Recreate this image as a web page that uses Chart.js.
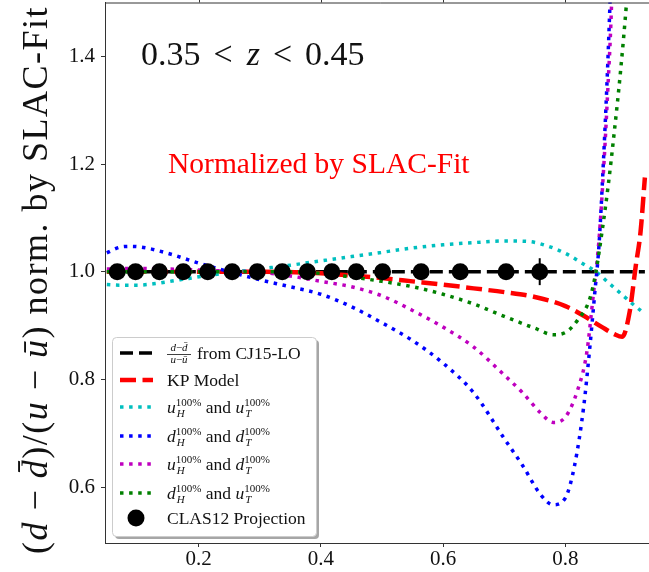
<!DOCTYPE html>
<html>
<head>
<meta charset="utf-8">
<script src="https://cdn.jsdelivr.net/npm/chart.js@4.4.1/dist/chart.umd.min.js"></script>
<style>
  html, body { margin: 0; padding: 0; background: #fff; overflow: hidden; }
  #wrap { width: 649px; height: 572px; overflow: hidden; }
  #ratio-chart { display: block; margin-top: -6px; }
</style>
</head>
<body>
<div id="wrap"><canvas id="ratio-chart" width="665" height="578"></canvas></div>
<script>
var SERIF = "'Liberation Serif', 'Times New Roman', serif";

var X_MIN = 0.047, X_MAX = 0.949;
var Y_MIN = 0.496, Y_MAX = 1.5;
var X_TICKS = [0.2, 0.4, 0.6, 0.8];
var Y_TICKS = [0.6, 0.8, 1.0, 1.2, 1.4];

// (d - dbar)/(u - ubar) from CJ15-LO, normalised to itself
var cj15X = [0.05, 0.93];
var cj15Y = [1.0, 1.0];

// KP model
var kpX = [0.05, 0.20, 0.30, 0.40, 0.45, 0.50, 0.55, 0.60, 0.65, 0.70, 0.75, 0.80, 0.83, 0.86, 0.88, 0.893, 0.905, 0.915, 0.923, 0.93];
var kpY = [1.0, 1.0, 1.0, 0.997, 0.993, 0.988, 0.982, 0.976, 0.969, 0.962, 0.953, 0.936, 0.918, 0.897, 0.884, 0.879, 0.925, 1.01, 1.075, 1.175];

// u_H 100% and u_T 100%
var uuX = [0.05, 0.07, 0.10, 0.13, 0.17, 0.21, 0.25, 0.30, 0.35, 0.40, 0.45, 0.50, 0.55, 0.60, 0.65, 0.70, 0.74, 0.77, 0.80, 0.83, 0.85, 0.87, 0.89, 0.91, 0.925];
var uuY = [0.976, 0.975, 0.975, 0.978, 0.985, 0.992, 0.998, 1.005, 1.012, 1.020, 1.028, 1.036, 1.044, 1.050, 1.054, 1.057, 1.056, 1.048, 1.034, 1.014, 1.0, 0.98, 0.96, 0.94, 0.926];

// d_H 100% and d_T 100%
var ddX = [0.05, 0.07, 0.09, 0.11, 0.15, 0.20, 0.25, 0.30, 0.35, 0.40, 0.45, 0.50, 0.55, 0.60, 0.65, 0.70, 0.73, 0.76, 0.78, 0.80, 0.815, 0.83, 0.84, 0.848, 0.855, 0.862, 0.868, 0.873, 0.876];
var ddY = [1.035, 1.045, 1.047, 1.045, 1.034, 1.016, 1.0, 0.985, 0.972, 0.958, 0.935, 0.905, 0.872, 0.83, 0.775, 0.69, 0.64, 0.585, 0.567, 0.58, 0.64, 0.75, 0.86, 0.96, 1.05, 1.2, 1.35, 1.5, 1.6];

// u_H 100% and d_T 100%
var udX = [0.05, 0.10, 0.15, 0.20, 0.25, 0.30, 0.35, 0.40, 0.45, 0.50, 0.55, 0.60, 0.65, 0.70, 0.73, 0.76, 0.78, 0.80, 0.82, 0.835, 0.845, 0.855, 0.863, 0.869, 0.875, 0.878];
var udY = [1.005, 1.006, 1.005, 1.003, 1.001, 0.999, 0.992, 0.982, 0.972, 0.955, 0.928, 0.897, 0.86, 0.808, 0.775, 0.737, 0.72, 0.73, 0.78, 0.85, 0.95, 1.06, 1.2, 1.33, 1.48, 1.6];

// d_H 100% and u_T 100%
var duX = [0.05, 0.20, 0.30, 0.40, 0.45, 0.50, 0.55, 0.60, 0.65, 0.70, 0.75, 0.78, 0.80, 0.82, 0.84, 0.85, 0.86, 0.87, 0.88, 0.89, 0.90, 0.905];
var duY = [1.0, 1.0, 1.0, 0.997, 0.99, 0.982, 0.972, 0.958, 0.94, 0.917, 0.895, 0.883, 0.887, 0.91, 0.95, 1.0, 1.075, 1.16, 1.26, 1.37, 1.5, 1.58];

// CLAS12 projection points
var clasX = [0.067, 0.097, 0.136, 0.175, 0.215, 0.255, 0.296, 0.337, 0.378, 0.418, 0.458, 0.501, 0.564, 0.628, 0.703, 0.758];
var clasY = [1, 1, 1, 1, 1, 1, 1, 1, 1, 1, 1, 1, 1, 1, 1, 1];
var clasErr = [0, 0, 0, 0, 0, 0, 0, 0, 0, 0, 0.002, 0.003, 0.005, 0.008, 0.012, 0.025];

function pts(xs, ys) {
    return xs.map(function(x, i) { return { x: x, y: ys[i] }; });
}

function curve(label, xs, ys, color, width, dash, order, runs) {
    return {
        label: label,
        data: pts(xs, ys),
        borderColor: color,
        borderWidth: width,
        borderDash: dash,
        pointRadius: 0,
        fill: false,
        cubicInterpolationMode: 'monotone',
        clip: 0,
        order: order,
        legendRuns: runs
    };
}

function fontOf(r) {
    return (r.italic ? 'italic ' : '') + r.size + 'px ' + SERIF;
}

// a row of text pieces; a piece with sup/sub stacks both at the same x
function runsWidth(ctx, runs) {
    var w = 0;
    runs.forEach(function(r) {
        if (r.sup !== undefined) {
            ctx.font = r.size + 'px ' + SERIF;
            var a = ctx.measureText(r.sup).width;
            ctx.font = 'italic ' + r.size + 'px ' + SERIF;
            var b = ctx.measureText(r.sub).width;
            w += Math.max(a, b) + (r.gap || 0);
        } else {
            ctx.font = fontOf(r);
            w += ctx.measureText(r.text).width + (r.gap || 0);
        }
    });
    return w;
}

function drawRuns(ctx, runs, x, y, align) {
    var cx = align === 'center' ? x - runsWidth(ctx, runs) / 2 : x;
    ctx.textAlign = 'left';
    ctx.textBaseline = 'alphabetic';
    runs.forEach(function(r) {
        if (r.sup !== undefined) {
            ctx.font = r.size + 'px ' + SERIF;
            ctx.fillText(r.sup, cx, y - r.up);
            var a = ctx.measureText(r.sup).width;
            ctx.font = 'italic ' + r.size + 'px ' + SERIF;
            ctx.fillText(r.sub, cx + 1, y + r.down);
            var b = ctx.measureText(r.sub).width;
            cx += Math.max(a, b) + (r.gap || 0);
        } else {
            ctx.font = fontOf(r);
            ctx.fillText(r.text, cx, y);
            cx += ctx.measureText(r.text).width + (r.gap || 0);
        }
    });
}

function percentRuns(a, ha, b, hb) {
    var S = 17.5, s = 11;
    return [
        { text: a, italic: true, size: S },
        { sup: '100%', sub: ha, size: s, up: 7, down: 4 },
        { text: ' and ', size: S },
        { text: b, italic: true, size: S },
        { sup: '100%', sub: hb, size: s, up: 7, down: 4 }
    ];
}

var datasets = [
    curve('cj15', cj15X, cj15Y, '#000000', 3.5, [13, 6], 7, 'frac'),
    curve('kp', kpX, kpY, '#ff0000', 4.5, [16, 6.5], 6, [{ text: 'KP Model', size: 17.5 }]),
    curve('uu', uuX, uuY, '#00bfbf', 3.5, [3.5, 5.6], 5, percentRuns('u', 'H', 'u', 'T')),
    curve('dd', ddX, ddY, '#0000ff', 3.5, [3.5, 5.6], 4, percentRuns('d', 'H', 'd', 'T')),
    curve('ud', udX, udY, '#bf00bf', 3.5, [3.5, 5.6], 3, percentRuns('u', 'H', 'd', 'T')),
    curve('du', duX, duY, '#008000', 3.5, [3.5, 5.6], 2, percentRuns('d', 'H', 'u', 'T')),
    {
        label: 'clas12',
        data: pts(clasX, clasY),
        showLine: false,
        pointRadius: 8.5,
        pointBackgroundColor: '#000000',
        pointBorderWidth: 0,
        clip: false,
        order: 1,
        legendRuns: [{ text: 'CLAS12 Projection', size: 17.5 }]
    }
];

var errorBars = {
    id: 'errorBars',
    afterDatasetsDraw: function(chart) {
        var ctx = chart.ctx, xs = chart.scales.x, ys = chart.scales.y;
        ctx.save();
        ctx.strokeStyle = '#000';
        ctx.lineWidth = 2;
        clasX.forEach(function(x, i) {
            if (!clasErr[i]) return;
            var px = xs.getPixelForValue(x);
            ctx.beginPath();
            ctx.moveTo(px, ys.getPixelForValue(clasY[i] - clasErr[i]));
            ctx.lineTo(px, ys.getPixelForValue(clasY[i] + clasErr[i]));
            ctx.stroke();
        });
        ctx.restore();
    }
};

// top spine with small outward ticks, same places as the bottom axis
var topFrame = {
    id: 'topFrame',
    afterDraw: function(chart) {
        var ctx = chart.ctx, a = chart.chartArea, xs = chart.scales.x;
        ctx.save();
        ctx.strokeStyle = '#333';
        ctx.lineWidth = 1;
        ctx.beginPath();
        ctx.moveTo(a.left, a.top + 0.5);
        ctx.lineTo(a.right, a.top + 0.5);
        X_TICKS.forEach(function(v) {
            var px = Math.round(xs.getPixelForValue(v)) + 0.5;
            ctx.moveTo(px, a.top);
            ctx.lineTo(px, a.top - 3);
        });
        ctx.stroke();
        ctx.restore();
    }
};

var LEGEND_BOX = { x: 112, y: 343, w: 204, h: 199 };
var LEGEND_ROWS = [359, 386, 413, 442, 470, 499, 524];

function roundRect(ctx, x, y, w, h, r) {
    ctx.beginPath();
    ctx.moveTo(x + r, y);
    ctx.arcTo(x + w, y, x + w, y + h, r);
    ctx.arcTo(x + w, y + h, x, y + h, r);
    ctx.arcTo(x, y + h, x, y, r);
    ctx.arcTo(x, y, x + w, y, r);
    ctx.closePath();
}

function drawFraction(ctx, cx, cy) {
    var s = 11;
    drawRuns(ctx, [{ text: 'd', italic: true, size: s }, { text: '\u2212', size: s }, { text: 'd\u0304', italic: true, size: s }], cx, cy - 3, 'center');
    ctx.fillRect(cx - 12, cy, 24, 0.8);
    drawRuns(ctx, [{ text: 'u', italic: true, size: s }, { text: '\u2212', size: s }, { text: 'u\u0304', italic: true, size: s }], cx, cy + 9, 'center');
}

var legendBox = {
    id: 'legendBox',
    afterDraw: function(chart) {
        var ctx = chart.ctx, b = LEGEND_BOX;
        ctx.save();
        ctx.fillStyle = 'rgba(0,0,0,0.35)';
        roundRect(ctx, b.x + 3, b.y + 3, b.w, b.h, 4);
        ctx.fill();
        ctx.fillStyle = '#ffffff';
        ctx.strokeStyle = '#cccccc';
        ctx.lineWidth = 1;
        roundRect(ctx, b.x + 0.5, b.y + 0.5, b.w, b.h, 4);
        ctx.fill();
        ctx.stroke();

        chart.data.datasets.forEach(function(ds, i) {
            var y = LEGEND_ROWS[i];
            ctx.save();
            if (ds.showLine === false) {
                ctx.fillStyle = ds.pointBackgroundColor;
                ctx.beginPath();
                ctx.arc(136, y, ds.pointRadius, 0, Math.PI * 2);
                ctx.fill();
            } else {
                ctx.strokeStyle = ds.borderColor;
                ctx.lineWidth = ds.borderWidth;
                ctx.setLineDash(ds.borderDash);
                ctx.beginPath();
                ctx.moveTo(120, y);
                ctx.lineTo(153, y);
                ctx.stroke();
            }
            ctx.restore();
            ctx.fillStyle = '#111';
            if (ds.legendRuns === 'frac') {
                drawFraction(ctx, 179, y + 1);
                drawRuns(ctx, [{ text: 'from CJ15-LO', size: 17.5 }], 197, y + 6);
            } else {
                drawRuns(ctx, ds.legendRuns, 167, y + 6);
            }
        });
        ctx.restore();
    }
};

var annotations = {
    id: 'annotations',
    afterDraw: function(chart) {
        var ctx = chart.ctx;
        ctx.save();
        ctx.fillStyle = '#111';
        drawRuns(ctx, [
            { text: '0.35', size: 34, gap: 13 },
            { text: '<', size: 34, gap: 14 },
            { text: 'z', italic: true, size: 34, gap: 13 },
            { text: '<', size: 34, gap: 13 },
            { text: '0.45', size: 34 }
        ], 141, 71);

        ctx.fillStyle = '#ff0000';
        drawRuns(ctx, [{ text: 'Normalized by SLAC-Fit', size: 29.5 }], 168, 179);

        // y axis title, rotated
        ctx.fillStyle = '#111';
        ctx.translate(47, 286);
        ctx.rotate(-Math.PI / 2);
        ctx.letterSpacing = '1.5px';
        drawRuns(ctx, [
            { text: '(', size: 36 },
            { text: 'd', italic: true, size: 36 },
            { text: ' \u2212 ', size: 36 },
            { text: 'd\u0304', italic: true, size: 36 },
            { text: ')/(', size: 36 },
            { text: 'u', italic: true, size: 36 },
            { text: ' \u2212 ', size: 36 },
            { text: 'u\u0304', italic: true, size: 36 },
            { text: ') norm. by SLAC-Fit', size: 36 }
        ], 0, 0, 'center');
        ctx.restore();
    }
};

function fixedTicks(values) {
    return function(scale) {
        scale.ticks = values.map(function(v) { return { value: v }; });
    };
}

// keep the plot box at fixed size: no extra room for half tick labels
function fitTo(prop, size) {
    return function(s) {
        s[prop] = size;
        s.paddingTop = 0;
        s.paddingBottom = 0;
        s.paddingLeft = 0;
        s.paddingRight = 0;
    };
}

var tickFont = { family: SERIF, size: 21 };
var spine = { color: '#333', width: 1 };

new Chart(document.getElementById('ratio-chart'), {
    type: 'line',
    data: { datasets: datasets },
    plugins: [errorBars, topFrame, legendBox, annotations],
    options: {
        responsive: false,
        animation: false,
        events: [],
        layout: { padding: { left: 0, top: 3, right: 7, bottom: 0 } },
        plugins: { legend: { display: false }, tooltip: { enabled: false } },
        scales: {
            x: {
                type: 'linear',
                position: 'bottom',
                min: X_MIN,
                max: X_MAX,
                border: spine,
                grid: { drawOnChartArea: false, tickLength: 4, color: '#333' },
                ticks: {
                    font: tickFont,
                    color: '#111',
                    padding: 0,
                    maxRotation: 0,
                    callback: function(v) { return v.toFixed(1); }
                },
                afterBuildTicks: fixedTicks(X_TICKS),
                afterFit: fitTo('height', 29)
            },
            y: {
                type: 'linear',
                min: Y_MIN,
                max: Y_MAX,
                border: spine,
                grid: { drawOnChartArea: false, tickLength: 4, color: '#333' },
                ticks: {
                    font: tickFont,
                    color: '#111',
                    padding: 6,
                    callback: function(v) { return v.toFixed(1); }
                },
                afterBuildTicks: fixedTicks(Y_TICKS),
                afterFit: fitTo('width', 105)
            }
        }
    }
});
</script>
</body>
</html>
